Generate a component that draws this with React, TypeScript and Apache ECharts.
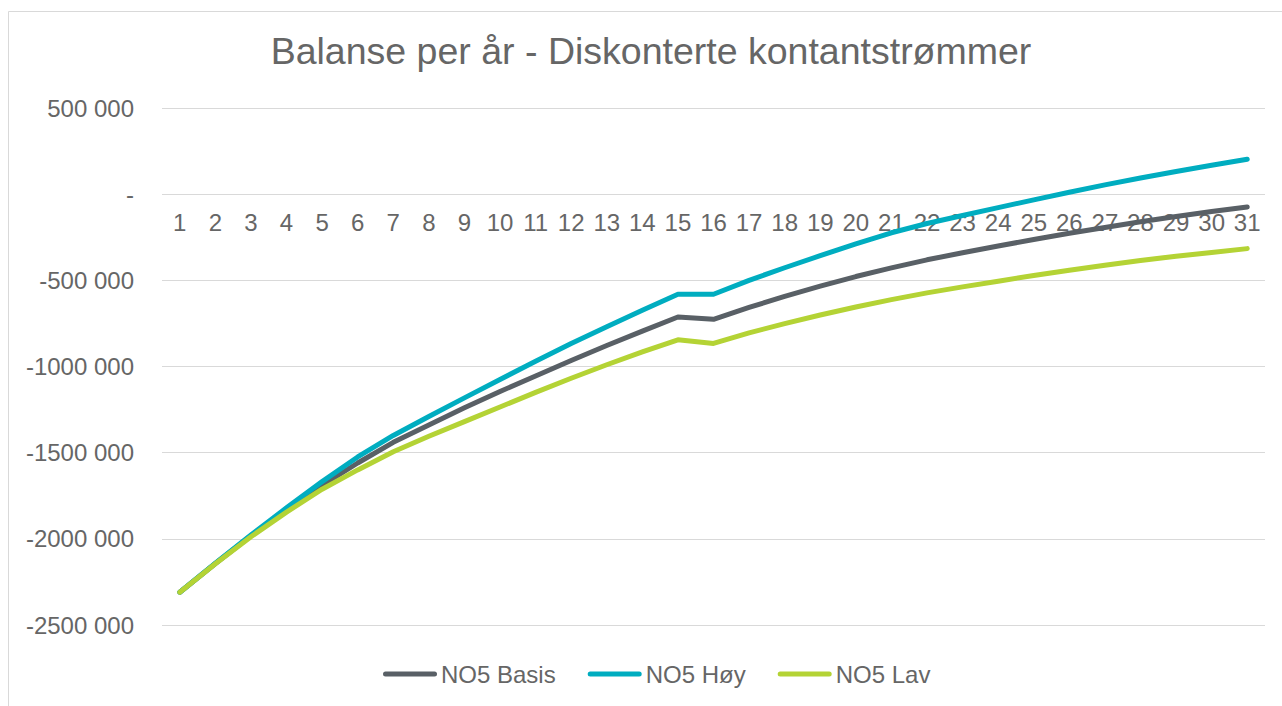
import React, { useEffect, useRef } from "react";
import * as echarts from "echarts";

const categories = ["1","2","3","4","5","6","7","8","9","10","11","12","13","14","15","16","17","18","19","20","21","22","23","24","25","26","27","28","29","30","31"];

const basis = [-2310000, -2143000, -1982000, -1832000, -1690000, -1560000, -1440000, -1340000, -1240000, -1145000, -1055000, -965000, -878000, -795000, -713000, -726000, -657000, -593000, -534000, -478000, -428000, -381000, -340000, -301000, -263000, -227000, -193000, -160000, -130000, -101000, -74000];
const hoy = [-2310000, -2142000, -1978000, -1820000, -1668000, -1525000, -1400000, -1290000, -1182000, -1075000, -970000, -866000, -769000, -674000, -581000, -581000, -500000, -427000, -357000, -288000, -224000, -170000, -124000, -78000, -33000, 11000, 54000, 94000, 132000, 168000, 203000];
const lav = [-2310000, -2145000, -1988000, -1845000, -1712000, -1600000, -1495000, -1405000, -1320000, -1235000, -1150000, -1068000, -990000, -915000, -845000, -866000, -805000, -751000, -701000, -655000, -612000, -573000, -538000, -505000, -472000, -441000, -412000, -385000, -360000, -338000, -316000];

const seriesNames = ["NO5 Basis", "NO5 Høy", "NO5 Lav"];
const yTicks = [-2500000, -2000000, -1500000, -1000000, -500000, 0, 500000];
const yTickLabels = ["-2500 000", "-2000 000", "-1500 000", "-1000 000", "-500 000", "-", "500 000"];

const FONT = "'Liberation Sans', Arial, sans-serif";
const TEXT = "#666666";
const COLORS = ["#596066", "#00ADC0", "#B4D335"];

export default function App() {
  const ref = useRef<HTMLDivElement>(null);
  useEffect(() => {
    if (!ref.current) return;
    const chart = echarts.init(ref.current, null, { renderer: "svg" });
    const legendIcon = "path://M2.5,0 H51.5 A2.5,2.5 0 0 1 51.5,5 H2.5 A2.5,2.5 0 0 1 2.5,0 Z";
    chart.setOption({
      animation: false,
      backgroundColor: "#ffffff",
      textStyle: { fontFamily: FONT },
      title: {
        text: "Balanse per år - Diskonterte kontantstrømmer",
        left: 646,
        top: 46,
        textAlign: "center",
        textVerticalAlign: "middle",
        textStyle: { color: TEXT, fontSize: 37.5, fontWeight: "normal", fontFamily: FONT },
      },
      graphic: [
        {
          type: "rect",
          shape: { x: 8.5, y: 11.5, width: 1400, height: 800 },
          style: { fill: "none", stroke: "#d9d9d9", lineWidth: 1 },
          silent: true,
          z: -1,
        },
      ],
      legend: {
        left: 378,
        top: 657,
        itemWidth: 54,
        itemHeight: 5,
        itemGap: 32,
        icon: legendIcon,
        textStyle: { color: TEXT, fontSize: 24, fontFamily: FONT, padding: [0, 0, 0, -1] },
        data: seriesNames,
      },
      grid: { left: 162, right: 17, top: 108, bottom: 81, containLabel: false },
      xAxis: {
        type: "category",
        data: categories,
        boundaryGap: true,
        position: "bottom",
        offset: -431,
        axisLine: { show: false, onZero: false },
        axisTick: { show: false },
        axisLabel: { color: TEXT, fontSize: 24, fontFamily: FONT, margin: 16, interval: 0 },
        splitLine: { show: false },
      },
      yAxis: {
        type: "value",
        min: -2500000,
        max: 500000,
        interval: 500000,
        axisLine: { show: false },
        axisTick: { show: false },
        axisLabel: {
          color: TEXT,
          fontSize: 24,
          fontFamily: FONT,
          margin: 28,
          formatter: (v: number) => {
            const i = yTicks.indexOf(v);
            return i >= 0 ? yTickLabels[i] : "";
          },
        },
        splitLine: { show: true, lineStyle: { color: "#d9d9d9", width: 1 } },
      },
      series: [basis, hoy, lav].map((d, i) => ({
        name: seriesNames[i],
        type: "line",
        data: d,
        showSymbol: false,
        symbol: "none",
        color: COLORS[i],
        lineStyle: { color: COLORS[i], width: 5, cap: "round", join: "round" },
        itemStyle: { color: COLORS[i] },
      })),
    });
    return () => chart.dispose();
  }, []);
  return <div ref={ref} style={{ position: "fixed", left: 0, top: 0, width: 1282, height: 706 }} />;
}
